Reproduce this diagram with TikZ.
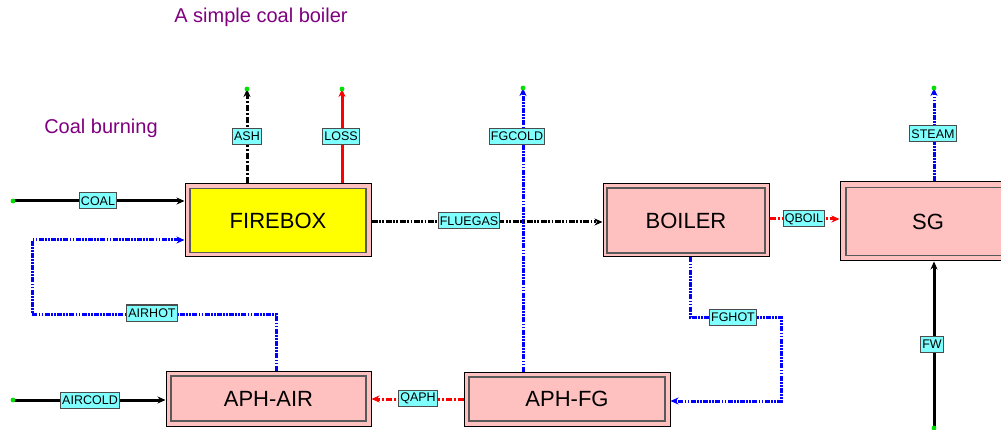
\documentclass[tikz,border=0pt]{standalone}
\usepackage{fontspec}
\setmainfont{Liberation Sans}
\usetikzlibrary{arrows.meta}
\definecolor{boxpink}{HTML}{FFC0C0}
\definecolor{lblcyan}{HTML}{80FFFF}
\definecolor{ttl}{HTML}{800080}
\definecolor{fbyellow}{HTML}{FFFF00}
\definecolor{linegreen}{HTML}{00E000}
\tikzset{
  outerbox/.style={draw=black, fill=boxpink, line width=1pt, inner sep=0pt},
  innerbox/.style={draw=black!65, fill=boxpink, line width=1.4pt, inner sep=0pt, font=\fontsize{22}{24}\selectfont},
  lbl/.style={draw=black!70, fill=lblcyan, line width=1pt, inner sep=1.5pt, minimum height=16pt, font=\fontsize{12.5}{13}\selectfont},
  ttlstyle/.style={text=ttl, font=\fontsize{20}{22}\selectfont},
  tipa/.style={-{Stealth[length=8pt,width=7pt]}},
  solidblack/.style={tipa, draw=black, line width=3pt},
  solidred/.style={tipa, draw=red, line width=3pt},
  dashblue/.style={tipa, draw=blue, line width=3pt, dash pattern=on 5pt off 1.3pt on 1.7pt off 1.3pt on 1.7pt off 1.3pt},
  dashblack/.style={tipa, draw=black, line width=3pt, dash pattern=on 6pt off 1.5pt on 1.8pt off 1.5pt on 1.8pt off 1.5pt},
  ashline/.style={tipa, draw=black, line width=3pt, dash pattern=on 6pt off 2pt on 2pt off 2pt},
  dashred/.style={tipa, draw=red, line width=3pt, dash pattern=on 6pt off 2pt on 2pt off 2pt},
  enddot/.style={fill=linegreen, draw=none}
}
\begin{document}
\begin{tikzpicture}[x=1pt,y=-1pt]
\clip (0,0) rectangle (1001,430);
\fill[white] (0,0) rectangle (1001,430);

% titles
\node[ttlstyle] (title) at (261,17) {A simple coal boiler};
\node[ttlstyle] (sub) at (101,128) {Coal burning};

% boxes
\node[outerbox, minimum width=186pt, minimum height=73pt] (firebox) at (278,220.5) {};
\node[innerbox, fill=fbyellow, minimum width=176pt, minimum height=64pt] (fireboxin) at (firebox) {FIREBOX};

\node[outerbox, minimum width=166pt, minimum height=73pt] (boiler) at (686,220.5) {};
\node[innerbox, minimum width=158pt, minimum height=65pt] (boilerin) at (boiler) {BOILER};

\node[outerbox, minimum width=176pt, minimum height=79pt] (sg) at (928,221.5) {};
\node[innerbox, minimum width=164pt, minimum height=68pt] (sgin) at (sg) {SG};

\node[outerbox, minimum width=205pt, minimum height=55pt] (aphair) at (268.5,398.5) {};
\node[innerbox, minimum width=195pt, minimum height=45pt] (aphairin) at (aphair) {APH-AIR};

\node[outerbox, minimum width=206pt, minimum height=54pt] (aphfg) at (567,399) {};
\node[innerbox, minimum width=196pt, minimum height=44pt] (aphfgin) at (aphfg) {APH-FG};

% free end points
\coordinate (coal0) at (13,201);
\coordinate (aircold0) at (13,400);
\coordinate (ash1) at (247,89);
\coordinate (loss1) at (342,89);
\coordinate (fgcold1) at (523,88);
\coordinate (steam1) at (934,88);
\coordinate (fw0) at (934,428);
\coordinate (ahcorner) at (32,314);
\coordinate (fgcorner) at (781,317);

% connectors
\draw[solidblack] (coal0) -- (coal0 -| firebox.west);
\draw[solidblack] (aircold0) -- (aircold0 -| aphair.west);
\draw[dashblue] ([xshift=7.5pt]aphair.north) |- (ahcorner) |- ([yshift=-19.5pt]firebox.west);
\draw[ashline] ([xshift=-31pt]firebox.north) -- (ash1);
\draw[solidred] ([xshift=64pt]firebox.north) -- (loss1);
\draw[dashblue] ([xshift=-44pt]aphfg.north) -- (fgcold1);
\draw[dashblack] ([yshift=-1.5pt]firebox.east) -- ([yshift=-1.5pt]boiler.west);
\draw[dashred] ([yshift=1.5pt]boiler.east) -- ([yshift=1.5pt]boiler.east -| sg.west);
\draw[dashblue] ([xshift=6pt]sg.north) -- (steam1);
\draw[solidblack] (fw0) -- ([xshift=6pt]sg.south);
\draw[dashblue] ([xshift=4pt]boiler.south) |- (fgcorner) |- ([yshift=-2pt]aphfg.east);
\draw[dashred] (aphfg.west) -- (aphfg.west -| aphair.east);

% end dots
\foreach \p in {coal0,aircold0,ash1,loss1,fgcold1,steam1,fw0}
  \fill[enddot] (\p) circle (2.4pt);

% labels
\node[lbl] (lcoal) at (98,201) {COAL};
\node[lbl] (lairhot) at (152,313) {AIRHOT};
\node[lbl] (laircold) at (90,400) {AIRCOLD};
\node[lbl] (lash) at (247,136.5) {ASH};
\node[lbl] (lloss) at (341,136.5) {LOSS};
\node[lbl] (lfgcold) at (517,136.5) {FGCOLD};
\node[lbl] (lfluegas) at (469,221) {FLUEGAS};
\node[lbl] (lqboil) at (804,219) {QBOIL};
\node[lbl] (lsteam) at (933,134) {STEAM};
\node[lbl] (lfw) at (932,344) {FW};
\node[lbl] (lfghot) at (733,317) {FGHOT};
\node[lbl] (lqaph) at (418,398) {QAPH};
\end{tikzpicture}
\end{document}
